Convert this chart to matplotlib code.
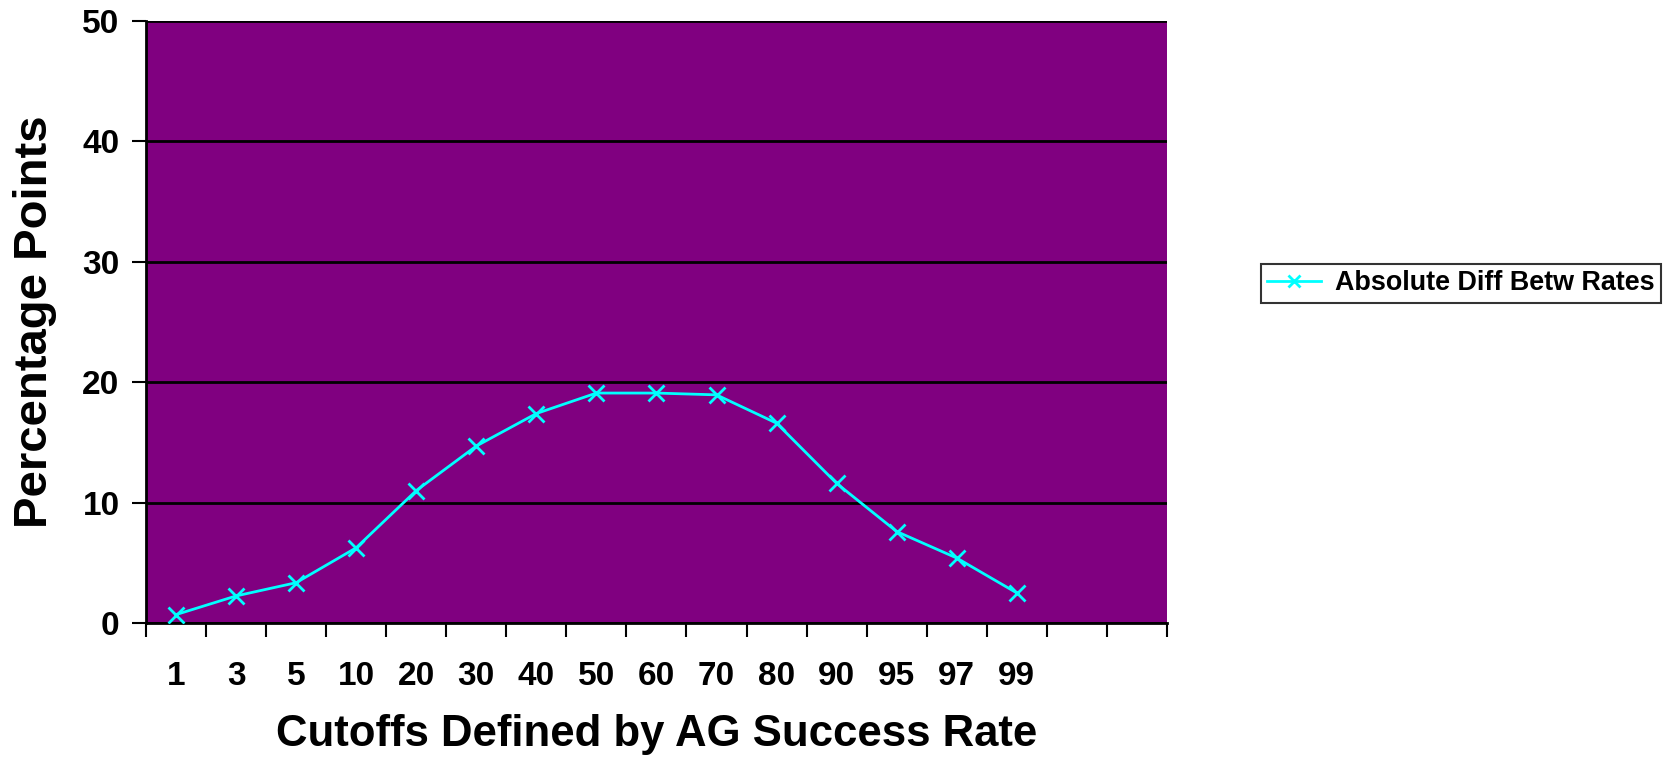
import numpy as np
import matplotlib
matplotlib.use('Agg')
import matplotlib.pyplot as plt
from matplotlib.lines import Line2D

# data
cutoffs = ['1', '3', '5', '10', '20', '30', '40', '50', '60', '70', '80', '90', '95', '97', '99']
abs_diff = [0.7, 2.25, 3.35, 6.25, 11.0, 14.7, 17.4, 19.1, 19.1, 18.95, 16.6, 11.6, 7.6, 5.4, 2.5]
n_slots = 17  # category axis has two empty slots after 99

plt.rcParams['font.family'] = ['Liberation Sans', 'DejaVu Sans']
plt.rcParams['font.weight'] = 'bold'

fig = plt.figure(figsize=(16.63, 7.61), dpi=100)
ax = fig.add_axes([0.0878, 0.1813, 0.7017 - 0.0878, 0.9724 - 0.1813])
ax.set_facecolor('#800080')

x = np.arange(len(cutoffs))
ax.plot(x, abs_diff, color='#00FFFF', linewidth=2, marker='x',
        markersize=11, markeredgewidth=2, zorder=3)

ax.set_xlim(-0.5, n_slots - 0.5)
ax.set_ylim(0, 50)

# y axis
ax.set_yticks([0, 10, 20, 30, 40, 50])
ax.yaxis.grid(True, color='black', linewidth=2)
ax.set_axisbelow(True)
ax.tick_params(axis='y', length=10, width=1.5, pad=9, labelsize=24)

# x axis: ticks on category boundaries, labels at centres
ax.set_xticks(np.arange(-0.5, n_slots, 1.0))
ax.set_xticklabels([])
ax.tick_params(axis='x', which='major', length=10, width=1.5)
ax.set_xticks(x, minor=True)
ax.set_xticklabels(cutoffs, minor=True, fontsize=24, fontweight='bold')
ax.tick_params(axis='x', which='minor', length=0, pad=27)

for s in ['top', 'right']:
    ax.spines[s].set_visible(False)
for s in ['left', 'bottom']:
    ax.spines[s].set_linewidth(2)
    ax.spines[s].set_color('black')

ax.set_xlabel('Cutoffs Defined by AG Success Rate', fontsize=31.5, fontweight='bold', labelpad=16)
ax.set_ylabel('Percentage Points', fontsize=34, fontweight='bold', labelpad=18)

handle = Line2D([], [], color='#00FFFF', linewidth=2, marker='x', markersize=8, markeredgewidth=2)
leg = fig.legend([handle], ['Absolute Diff Betw Rates'], loc='center left',
                 bbox_to_anchor=(0.750, 0.6275), fontsize=19.4, frameon=True,
                 fancybox=False, edgecolor='black', handlelength=2.0,
                 borderpad=0.25, handletextpad=0.5)
leg.get_frame().set_linewidth(1.5)
for t in leg.get_texts():
    t.set_fontweight('bold')

plt.savefig('out.png', dpi=100)
plt.close('all')
